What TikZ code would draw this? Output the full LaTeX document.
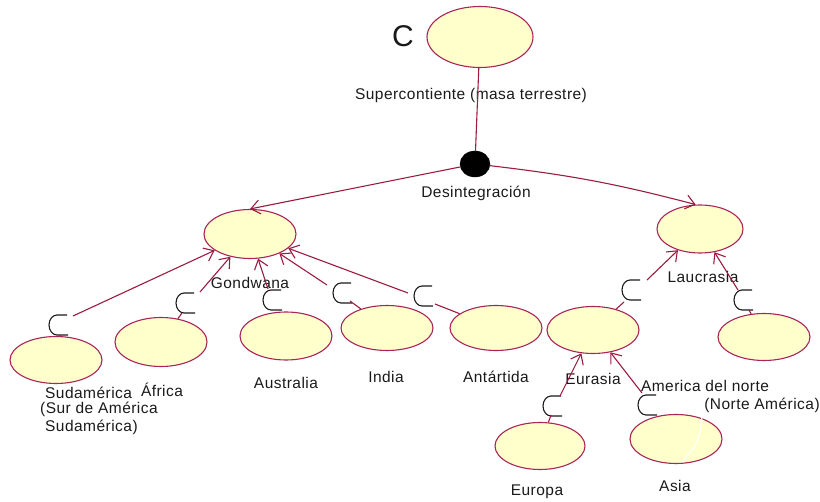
\documentclass[tikz,border=0pt]{standalone}
\usepackage{fontspec}
\setmainfont{Liberation Sans}[LetterSpace=3]
\usetikzlibrary{shapes.geometric,arrows.meta}
\definecolor{fillY}{HTML}{FFFFCC}
\definecolor{edgeR}{HTML}{A8245A}
\definecolor{lineR}{HTML}{9A1C40}
\definecolor{txt}{HTML}{1A1A1A}
\begin{document}
\begin{tikzpicture}[x=1pt,y=-1pt,
 uc/.style={ellipse, draw=edgeR, fill=fillY, line width=1.1pt, inner sep=0pt, minimum width=92pt, minimum height=47pt},
 lbl/.style={font=\fontsize{15.5}{17}\selectfont, inner sep=0pt, text=txt},
 dep/.style={draw=lineR, line width=1.1pt, -{Straight Barb[length=9pt,width=14pt]}},
 seg/.style={draw=lineR, line width=1.1pt},
 incl/.pic={\draw[line width=1.1pt, txt] (9,-10) -- (-1,-10) arc[start angle=-90,end angle=-270,x radius=8,y radius=10] -- (10,10);}
]
\useasboundingbox (0,0) rectangle (820,502);
% nodes
\node[uc, minimum width=106pt, minimum height=61pt] (sup) at (480,37) {};
\node[font=\fontsize{30}{32}\selectfont, text=txt, inner sep=0pt] (bigc) at (403,36) {C};
\node[lbl] (supl) at (471,95) {Supercontiente (masa terrestre)};
\node[ellipse, fill=black, draw=black, inner sep=0pt, minimum width=30pt, minimum height=26pt] (dis) at (475,164) {};
\node[lbl] (disl) at (476,193) {Desintegración};

\node[uc, minimum height=49pt] (gond) at (250,234) {};
\node[lbl] (gondl) at (250,283) {Gondwana};
\node[uc, minimum width=86pt, minimum height=48pt] (lauc) at (700,229) {};
\node[lbl] (laucl) at (703,277) {Laucrasia};

\node[uc] (sud) at (56,360) {};
\node[lbl, anchor=west] (sudl1) at (45,393) {Sudamérica};
\node[lbl, anchor=west] (sudl2) at (40,409) {(Sur de América};
\node[lbl, anchor=west] (sudl3) at (45,427) {Sudamérica)};
\node[uc, minimum height=49pt] (afr) at (161,342) {};
\node[lbl] (afrl) at (162,390) {África};
\node[uc, minimum height=48pt] (aus) at (286,336) {};
\node[lbl] (ausl) at (286,383) {Australia};
\node[uc, minimum height=45pt] (ind) at (387,328) {};
\node[lbl] (indl) at (386,377) {India};
\node[uc, minimum height=45pt] (ant) at (496,328) {};
\node[lbl] (antl) at (496,377) {Antártida};
\node[uc] (eur) at (593,330) {};
\node[lbl] (eurl) at (593,379) {Eurasia};
\node[uc] (nam) at (764,337) {};
\node[lbl] (naml1) at (705,386) {America del norte};
\node[lbl] (naml2) at (762,405) {(Norte América)};
\node[uc, minimum width=90pt] (euro) at (540,446) {};
\node[lbl] (eurol) at (537,492) {Europa};
\node[uc, minimum height=49pt] (asia) at (676,439) {};
\node[lbl] (asial) at (675,486) {Asia};
\draw[white, line width=1.2pt] (702,417) .. controls (699,442) .. (682,462);

% main structure
\draw[seg] (sup) -- (dis);
\draw[dep] (dis) -- (gond.north);
\draw[dep] (dis) to[bend left=4] (lauc.100);

% dependency markers and lines
\coordinate (a1) at (73,316);  \coordinate (b1) at (60,335);
\coordinate (a2) at (200,292); \coordinate (b2) at (182,313);
\coordinate (a3) at (268,289);
\coordinate (a4) at (327,285); \coordinate (b4) at (350,301);
\coordinate (a5) at (408,293); \coordinate (b5) at (435,304);
\coordinate (a6) at (647,280); \coordinate (b6) at (624,302);
\coordinate (a7) at (738,290); \coordinate (b7) at (749,310);
\coordinate (a8) at (560,396); \coordinate (b8) at (551,415);
\coordinate (a9) at (642,393);

\pic at (58,325) {incl};
\pic at (185,303) {incl};
\pic at (272,300) {incl};
\pic at (342,293) {incl};
\pic at (423,296) {incl};
\pic at (631,290) {incl};
\pic at (743,300) {incl};
\pic at (552,406) {incl};
\pic at (647,405) {incl};

\draw[dep] (a1) -- (gond);
\draw[dep] (a2) -- (gond);
\draw[dep] (a3) -- (gond);
\draw[dep] (a4) -- (gond);
\draw[dep] (a5) -- (gond);
\draw[dep] (a6) -- (lauc);
\draw[dep] (a7) -- (lauc);
\draw[dep] (a8) -- (eur);
\draw[dep] (a9) -- (eur);

\draw[seg] (b1) -- (sud);
\draw[seg] (b2) -- (afr);
\draw[seg] (b4) -- (ind);
\draw[seg] (b5) -- (ant);
\draw[seg] (b6) -- (eur);
\draw[seg] (b7) -- (nam);
\draw[seg] (b8) -- (euro);
\end{tikzpicture}
\end{document}
